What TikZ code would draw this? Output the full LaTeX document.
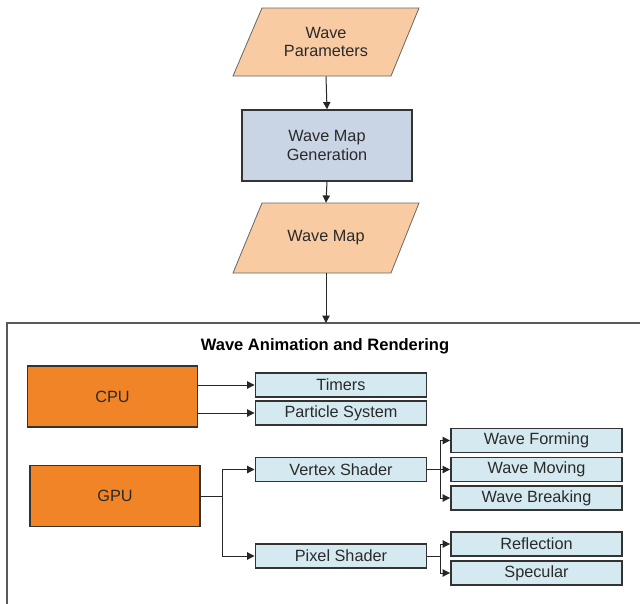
\documentclass[tikz,border=0pt]{standalone}
\usepackage{fontspec}
\setmainfont{Liberation Sans}
\usetikzlibrary{arrows.meta,shadows}
\definecolor{peach}{HTML}{F9CBA3}
\definecolor{steelbox}{HTML}{C9D5E4}
\definecolor{orangebox}{HTML}{F08427}
\definecolor{cyanbox}{HTML}{D4EAF0}
\definecolor{txt}{HTML}{2A2A2A}
\definecolor{edge}{HTML}{333333}
\tikzset{
  lbl/.style={font=\fontsize{12.2pt}{14.2pt}\selectfont, text=txt, align=center, inner sep=0pt},
  para/.style={draw=gray!80!black, line width=0.6pt, fill=peach},
  genbox/.style={lbl, draw=edge, line width=1.3pt, fill=steelbox, minimum width=127.5pt, minimum height=53pt,
    drop shadow={shadow xshift=0.6pt, shadow yshift=-0.6pt, fill=gray!60}},
  unitbox/.style={lbl, draw=edge, line width=1.2pt, fill=orangebox, minimum width=127.5pt, minimum height=46pt,
    drop shadow={shadow xshift=0.6pt, shadow yshift=-0.6pt, fill=gray!60}},
  taskbox/.style={lbl, draw=edge, line width=1.2pt, fill=cyanbox, minimum width=128.5pt, minimum height=18pt,
    drop shadow={shadow xshift=0.6pt, shadow yshift=-0.6pt, fill=gray!60}},
  conn/.style={draw=black!85, line width=0.75pt},
  arr/.style={conn, -{Triangle[length=5.5pt,width=5.5pt]}},
}
\begin{document}
\begin{tikzpicture}[x=0.75pt,y=-0.75pt]
\useasboundingbox (0,0) rectangle (640,604);
% parallelograms
\path[para] (262,8) -- (419,8) -- (391,76) -- (233,76) -- cycle;
\node[lbl, minimum height=51pt] (wp) at (326,42) {Wave\\Parameters};
\node[genbox] (wmg) at (327,145.5) {Wave Map\\Generation};
\path[para] (262,203) -- (419,203) -- (391,273) -- (233,273) -- cycle;
\node[lbl, minimum height=52.5pt] (wmap) at (326,238) {Wave Map};
% container
\draw[draw=gray!70!black, line width=0.9pt] (7,604) -- (7,323) -- (640,323);
\coordinate (ctop) at (326,323);
\node[lbl, font=\fontsize{12.4pt}{14.4pt}\selectfont\bfseries, text=black] (title) at (325,346) {Wave Animation and Rendering};
% units
\node[unitbox] (cpu) at (112.5,396.5) {CPU};
\node[unitbox] (gpu) at (115,496) {GPU};
% tasks
\node[taskbox] (timers) at (341,385) {Timers};
\node[taskbox] (psys) at (341,413) {Particle System};
\node[taskbox] (vs) at (341,469.5) {Vertex Shader};
\node[taskbox] (pxs) at (341,556) {Pixel Shader};
\node[taskbox] (wf) at (536.5,440.5) {Wave Forming};
\node[taskbox] (wmv) at (536.5,469.5) {Wave Moving};
\node[taskbox] (wb) at (536.5,498) {Wave Breaking};
\node[taskbox] (refl) at (536.5,544) {Reflection};
\node[taskbox] (spec) at (536.5,573) {Specular};
% connectors top
\draw[arr] (wp.south) -- (wmg.north);
\draw[arr] (wmg.south) -- (wmap.north);
\draw[arr] (wmap.south) -- (ctop);
% cpu
\draw[arr] (cpu.east |- timers) -- (timers.west);
\draw[arr] (cpu.east |- psys) -- (psys.west);
% gpu
\coordinate (gj) at (222,496);
\draw[conn] (gpu.east) -- (gj);
\draw[arr] (gj) |- (vs.west);
\draw[arr] (gj) |- (pxs.west);
% vertex shader
\coordinate (vj) at (440,469.5);
\draw[conn] (vs.east) -- (vj);
\draw[arr] (vj) |- (wf.west);
\draw[arr] (vj) -- (wmv.west);
\draw[arr] (vj) |- (wb.west);
% pixel shader
\coordinate (pj) at (440,556);
\draw[conn] (pxs.east) -- (pj);
\draw[arr] (pj) |- (refl.west);
\draw[arr] (pj) |- (spec.west);
\end{tikzpicture}
\end{document}
